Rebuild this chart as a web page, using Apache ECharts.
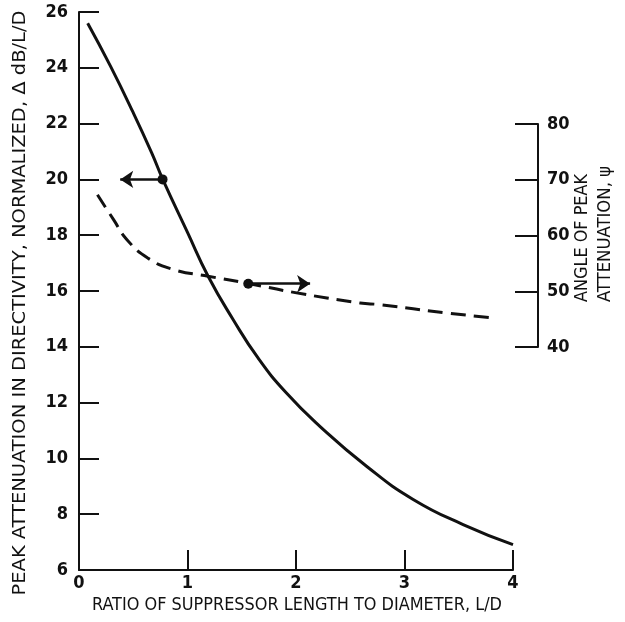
<!DOCTYPE html>
<html>
<head>
<meta charset="utf-8">
<script src="https://cdn.jsdelivr.net/npm/echarts@6/dist/echarts.min.js"></script>
<style>html,body{margin:0;padding:0;background:#fff;}#c{width:625px;height:622px;}</style>
</head>
<body>
<div id="c"></div>
<script>
// Solid curve: peak attenuation (left axis), x = L/D
var solidX = [0.08, 0.29, 0.50, 0.67, 0.77, 1.00, 1.19, 1.42, 1.65, 1.91, 2.22, 2.65, 3.08, 3.54, 4.0];
var solidY = [25.6, 24.06, 22.39, 20.95, 20.02, 18.1, 16.53, 14.98, 13.6, 12.35, 11.15, 9.72, 8.53, 7.63, 6.91];
// Dashed curve: angle of peak attenuation (right axis)
var dashX = [0.17, 0.32, 0.44, 0.63, 0.87, 1.19, 1.56, 1.98, 2.59, 2.77, 3.39, 3.83];
var dashY = [67.3, 62.8, 59.3, 56.0, 53.9, 52.7, 51.4, 49.8, 47.9, 47.6, 46.1, 45.2];
// Arrow indicators (dot, arrow tip)
var solidArrow = [[0.77, 20.0], [0.38, 20.0]];
var dashArrow = [[1.56, 51.35], [2.13, 51.35]];
var xTicks = [0, 4, 1];
var leftTicks = [6, 26, 2];
var rightTicks = [40, 80, 10];
var xTitle = 'RATIO OF SUPPRESSOR LENGTH TO DIAMETER, L/D';
var yTitle = 'PEAK ATTENUATION IN DIRECTIVITY, NORMALIZED, \u0394 dB/L/D';
var y2Title = ['ANGLE OF PEAK', 'ATTENUATION, \u03c8'];

var font = '"Liberation Sans Narrow", "DejaVu Sans Condensed", "Liberation Sans", sans-serif';
var ctx = document.createElement('canvas').getContext('2d');
function fitScale(text, f, target) { ctx.font = f; return target / ctx.measureText(text).width; }

var chart = echarts.init(document.getElementById('c'), null, {renderer: 'canvas'});
function pairs(xs, ys) { return xs.map(function (x, i) { return [x, ys[i]]; }); }

var axisLine = {show: true, onZero: false, lineStyle: {color: '#111', width: 2}};
var tick = function (len) { return {show: true, inside: true, length: len, lineStyle: {color: '#111', width: 2}}; };
var label = {color: '#111', fontFamily: font, fontSize: 18, fontWeight: 'bold'};

var fX = '18px ' + font, fY = '17px ' + font, fY2 = '17px ' + font;

chart.setOption({
  animation: false,
  backgroundColor: '#fff',
  grid: [
    {left: 79, top: 12, width: 434, height: 558, containLabel: false},
    {left: 79, top: 124, width: 434, height: 223, containLabel: false}
  ],
  xAxis: [
    {gridIndex: 0, type: 'value', min: xTicks[0], max: xTicks[1], interval: xTicks[2],
     axisLine: axisLine, axisTick: tick(20),
     axisLabel: Object.assign({margin: 4}, label), splitLine: {show: false}},
    {gridIndex: 1, type: 'value', min: xTicks[0], max: xTicks[1], show: false}
  ],
  yAxis: [
    {gridIndex: 0, type: 'value', min: leftTicks[0], max: leftTicks[1], interval: leftTicks[2],
     axisLine: axisLine, axisTick: tick(20),
     axisLabel: Object.assign({margin: 11}, label), splitLine: {show: false}},
    {gridIndex: 1, type: 'value', position: 'right', offset: 25, min: rightTicks[0], max: rightTicks[1], interval: rightTicks[2],
     axisLine: axisLine, axisTick: tick(23),
     axisLabel: Object.assign({margin: 9}, label), splitLine: {show: false}}
  ],
  series: [
    {type: 'line', xAxisIndex: 0, yAxisIndex: 0, data: pairs(solidX, solidY), smooth: 0.5,
     showSymbol: false, symbol: 'none', lineStyle: {color: '#111', width: 3}},
    {type: 'line', xAxisIndex: 1, yAxisIndex: 1, data: pairs(dashX, dashY), smooth: 0.5,
     showSymbol: false, symbol: 'none', lineStyle: {color: '#111', width: 3, type: [15, 8]}},
    {type: 'lines', coordinateSystem: 'cartesian2d', xAxisIndex: 0, yAxisIndex: 0,
     symbol: ['circle', 'arrow'], symbolSize: [10, 13],
     lineStyle: {color: '#111', width: 2.5, opacity: 1},
     data: [{coords: solidArrow}]},
    {type: 'lines', coordinateSystem: 'cartesian2d', xAxisIndex: 1, yAxisIndex: 1,
     symbol: ['circle', 'arrow'], symbolSize: [10, 13],
     lineStyle: {color: '#111', width: 2.5, opacity: 1},
     data: [{coords: dashArrow}]}
  ],
  graphic: [
    {type: 'text', x: 21, y: 303, rotation: Math.PI / 2, scaleX: fitScale(yTitle, fY, 585),
     style: {text: yTitle, fill: '#111', font: fY, textAlign: 'center', textVerticalAlign: 'middle'}},
    {type: 'text', x: 297, y: 605, scaleX: fitScale(xTitle, fX, 410),
     style: {text: xTitle, fill: '#111', font: fX, textAlign: 'center', textVerticalAlign: 'middle'}},
    {type: 'text', x: 583, y: 302, rotation: Math.PI / 2, scaleX: fitScale(y2Title[0], fY2, 128),
     style: {text: y2Title[0], fill: '#111', font: fY2, textAlign: 'left', textVerticalAlign: 'middle'}},
    {type: 'text', x: 606, y: 302, rotation: Math.PI / 2, scaleX: fitScale(y2Title[1], fY2, 136),
     style: {text: y2Title[1], fill: '#111', font: fY2, textAlign: 'left', textVerticalAlign: 'middle'}}
  ]
});
</script>
</body>
</html>
